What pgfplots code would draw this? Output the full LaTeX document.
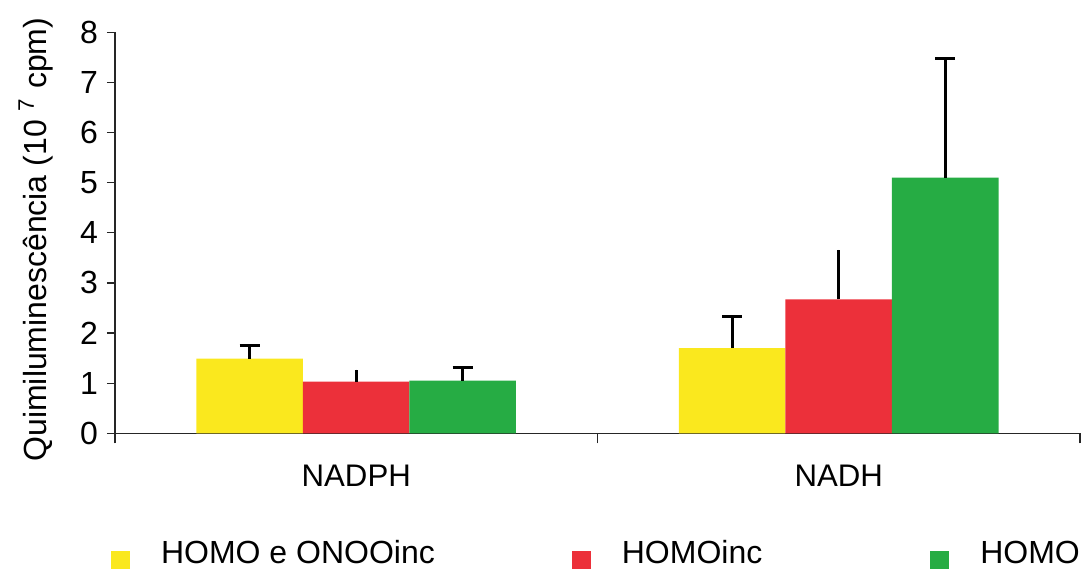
\documentclass[border=0pt]{standalone}
\usepackage{pgfplots}
\pgfplotsset{compat=1.18}
\usepackage{fontspec}
\setmainfont{Liberation Sans}
\definecolor{cy}{RGB}{250,232,30}
\definecolor{cr}{RGB}{236,48,58}
\definecolor{cg}{RGB}{38,172,68}
\begin{document}
\begin{tikzpicture}
\useasboundingbox (0,0) rectangle (544.5pt,285.5pt);
\begin{axis}[
  at={(57.5pt,68.85pt)}, anchor=south west,
  scale only axis, width=482.5pt, height=200.5pt,
  axis x line=bottom, axis y line=left,
  axis line style={-, line width=0.6pt, black!85},
  xmin=-0.5, xmax=1.5, ymin=0, ymax=8,
  xtick={0,1}, xticklabels={NADPH,NADH},
  minor xtick={-0.5,0.5,1.5},
  major x tick style={draw=none},
  minor x tick style={line width=0.6pt, black!85},
  minor tick length=5pt,
  ytick={0,...,8},
  y tick style={line width=0.6pt, black!85},
  major tick length=4pt,
  tick align=outside,
  /pgf/number format/assume math mode=true,
  yticklabel style={font=\fontsize{16}{18}\selectfont, xshift=-1pt},
  xticklabel style={font=\fontsize{15.6}{18}\selectfont, yshift=-8.5pt},
  ylabel={Quimiluminescência (10 \textsuperscript{7} cpm)},
  ylabel style={font=\fontsize{16}{19}\selectfont, at={(axis description cs:-0.082,0.483)}, anchor=center},
  ybar, bar width=53.25pt,
  error bars/error bar style={line width=1.5pt, black},
  error bars/error mark options={line width=1.5pt, black, mark size=5pt, rotate=90},
  legend columns=3,
  legend style={draw=none, fill=none, inner sep=0pt, at={(-0.0045,-0.30)}, anchor=west,
    font=\fontsize{16}{18}\selectfont,
    nodes={inner ysep=1pt},
    /tikz/every odd column/.append style={column sep=13.5pt},
    /tikz/column 2/.append style={column sep=66.5pt},
    /tikz/column 4/.append style={column sep=82pt}},
  legend image code/.code={\fill[#1] (0pt,-7.5pt) rectangle (9.5pt,1.5pt);},
]
\addplot[fill=cy, draw=none, bar shift=-53.25pt,
  error bars/.cd, y dir=plus, y explicit]
  coordinates {(0,1.49) +- (0,0.26) (1,1.70) +- (0,0.63)};
\addplot[fill=cr, draw=none, bar shift=0pt,
  error bars/.cd, y dir=plus, y explicit, error mark=none]
  coordinates {(0,1.03) +- (0,0.24) (1,2.67) +- (0,0.99)};
\addplot[fill=cg, draw=none, bar shift=53.25pt,
  error bars/.cd, y dir=plus, y explicit]
  coordinates {(0,1.05) +- (0,0.26) (1,5.10) +- (0,2.38)};
\legend{HOMO e ONOOinc, HOMOinc, HOMO}
\end{axis}
\end{tikzpicture}
\end{document}
